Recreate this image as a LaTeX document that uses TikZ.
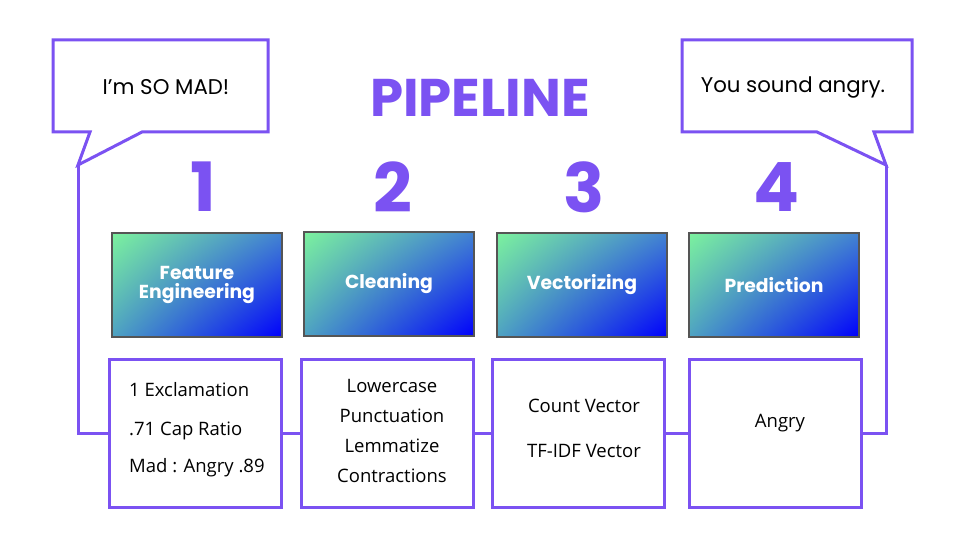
\documentclass[tikz,border=0pt]{standalone}
\usepackage{fontspec}
\setmainfont{Open Sans}
\newfontfamily\popfont{Poppins}
\usetikzlibrary{calc,shadings}
\definecolor{purp}{HTML}{7B52F2}
\definecolor{gA}{HTML}{7CF29E}
\definecolor{gB}{HTML}{0000FC}
\definecolor{gUR}{HTML}{4282D2}
\definecolor{gLL}{HTML}{4EA2C2}
\definecolor{gborder}{HTML}{555555}
\begin{document}
\begin{tikzpicture}[x=1pt,y=-1pt,
  line/.style={draw=purp,line width=3pt},
  infobox/.style={draw=purp,line width=3pt,fill=white,minimum width=172pt,minimum height=148pt,inner sep=0pt},
  gradbox/.style={draw=gborder,line width=1.2pt,minimum width=170pt,minimum height=104pt,inner sep=0pt,
     shade,upper left=gA,lower right=gB,upper right=gUR,lower left=gLL,
     text=white,font=\popfont\bfseries\fontsize{18.8}{22}\selectfont,align=center},
  num/.style={text=purp,font=\popfont\bfseries\fontsize{68}{68}\selectfont},
  bodytext/.style={font=\fontsize{18.5}{22}\selectfont,text=black,anchor=base,inner sep=0pt},
  bubtext/.style={font=\popfont\fontsize{21.3}{26}\selectfont,text=black}]
\useasboundingbox (0,0) rectangle (960,540);
\fill[white] (0,0) rectangle (960,540);

% title
\node[text=purp,font=\popfont\bfseries\fontsize{53}{53}\selectfont] (title) at (480,98) {PIPELINE};

% numbers
\node[num] (n1) at (203,187) {1};
\node[num] (n2) at (393,187) {2};
\node[num] (n3) at (584,187) {3};
\node[num] (n4) at (777,187) {4};

% gradient boxes
\node[gradbox] (g1) at (197,285) {Feature\\[-3pt]Engineering};
\node[gradbox] (g2) at (389,284) {Cleaning};
\node[gradbox] (g3) at (582,285) {Vectorizing};
\node[gradbox] (g4) at (774,285) {Prediction};

% info boxes
\node[infobox] (b1) at (195,433) {};
\node[infobox] (b2) at (387,433) {};
\node[infobox] (b3) at (578.5,433) {};
\node[infobox] (b4) at (775,433) {};

% connectors between boxes
\draw[line] (b1.east) -- (b2.west);
\draw[line] (b2.east) -- (b3.west);
\draw[line] (b3.east) -- (b4.west);

% left bubble
\coordinate (ltip) at (78,165);
\coordinate (rtip) at (886,165);
\draw[line,line join=miter] (90,132) -- (53,132) -- (53,40) -- (268,40) -- (268,132) -- (142,132) -- (ltip) -- cycle;
\node[bubtext] (lb) at (166,87) {I’m SO MAD!};
\draw[line,line join=miter] (ltip) |- (b1.west);

% right bubble
\draw[line,line join=miter] (874,132) -- (912,132) -- (912,40) -- (682,40) -- (682,132) -- (817,132) -- (rtip) -- cycle;
\node[bubtext] (rb) at (793,87) {You sound angry.};
\draw[line,line join=miter] (rtip) |- (b4.east);

% texts
\node[bodytext,anchor=base west] (t11) at (129,396) {1 Exclamation};
\node[bodytext,anchor=base west] (t12) at (129,435) {.71 Cap Ratio};
\node[bodytext,anchor=base west] (t13) at (129,472) {Mad : Angry .89};

\node[bodytext] (t21) at (392,392) {Lowercase};
\node[bodytext] (t22) at (392,422) {Punctuation};
\node[bodytext] (t23) at (392,452) {Lemmatize};
\node[bodytext] (t24) at (392,482) {Contractions};

\node[bodytext] (t31) at (584,412) {Count Vector};
\node[bodytext] (t32) at (584,457) {TF-IDF Vector};

\node[bodytext] (t41) at (780,427) {Angry};
\end{tikzpicture}
\end{document}
